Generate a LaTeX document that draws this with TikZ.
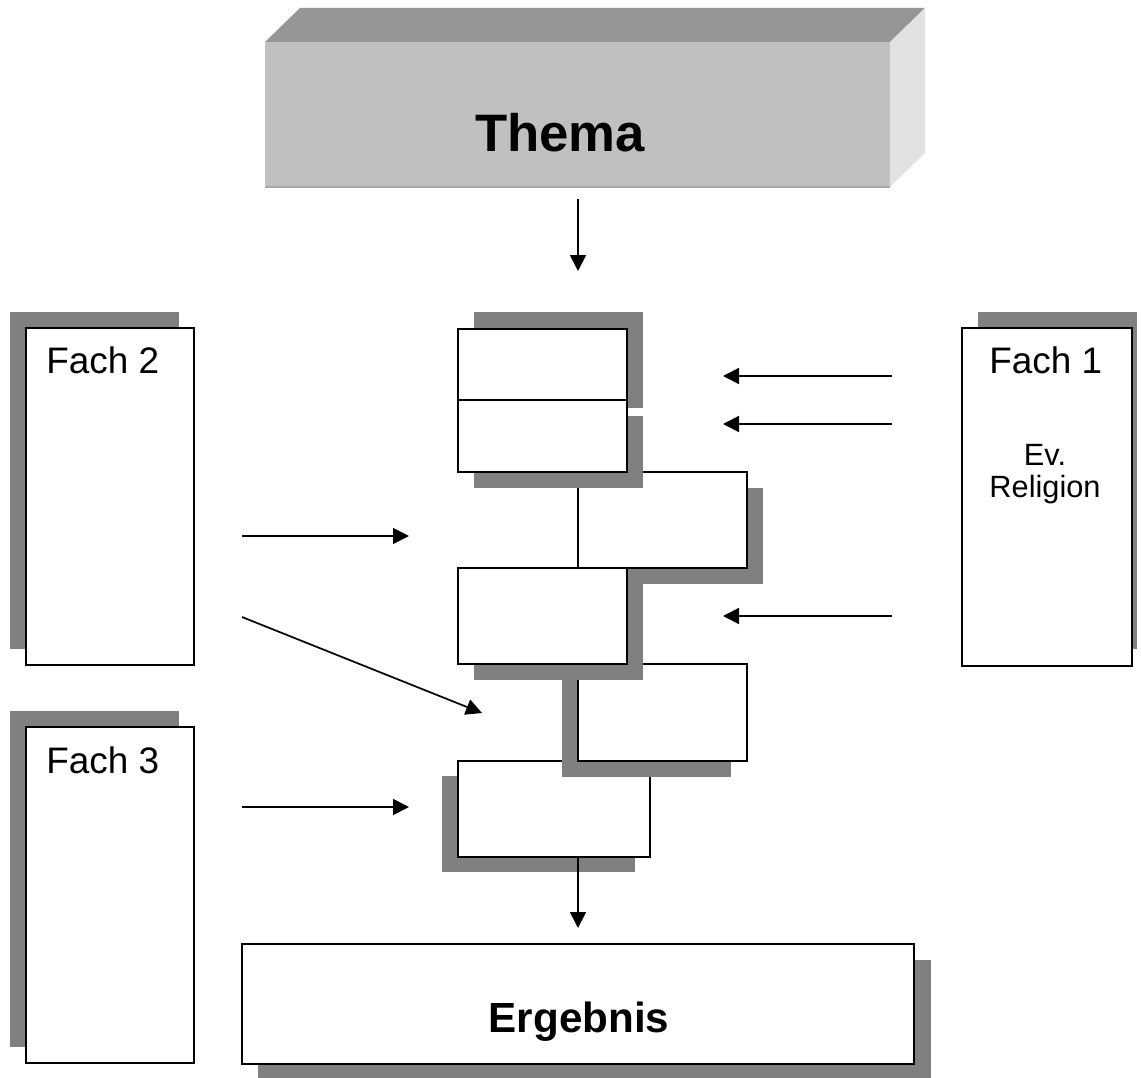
\documentclass[tikz,border=0pt]{standalone}
\usepackage{fontspec}
\setmainfont{Liberation Sans}
\usetikzlibrary{arrows.meta,fit}
\definecolor{shd}{HTML}{808080}
\definecolor{frontc}{HTML}{C0C0C0}
\definecolor{topc}{HTML}{969696}
\definecolor{sidec}{HTML}{E2E2E2}
\definecolor{edgec}{HTML}{A8A8A8}
\begin{document}
\begin{tikzpicture}[x=0.02cm,y=-0.02cm,
  box/.style={draw=black, line width=1.1pt, fill=white, inner sep=0pt},
  shadowbox/.style={fill=shd, draw=none},
  arr/.style={line width=1pt, -{Triangle[length=0.32cm,width=0.32cm]}},
  fachtext/.style={font=\fontsize{21}{25}\selectfont, anchor=base west, inner sep=0pt},
  smalltext/.style={font=\fontsize{17.5}{21}\selectfont, anchor=base, inner sep=0pt},
  bigtext/.style={font=\bfseries, anchor=base, inner sep=0pt}]
\useasboundingbox (0,0) rectangle (1141,1077);

% Thema 3D block
\fill[topc] (265,42) -- (300,8) -- (925,8) -- (890,42) -- cycle;
\fill[sidec] (890,42) -- (925,8) -- (925,153) -- (890,187) -- cycle;
\node[fill=frontc, inner sep=0pt, fit={(265,42) (890,187)}] (thema) {};
\draw[edgec, line width=0.8pt] (265,187) -- (890,187);
\node[bigtext, font=\fontsize{30}{36}\selectfont\bfseries] (thematxt) at (560,152) {Thema};

% Fach 2
\fill[shadowbox] (10,312) rectangle (179,649);
\node[box, fit={(26,328) (194,665)}] (fach2) {};
\node[fachtext] (fach2txt) at (46,374) {Fach 2};

% Fach 3
\fill[shadowbox] (10,711) rectangle (179,1047);
\node[box, fit={(26,727) (194,1063)}] (fach3) {};
\node[fachtext] (fach3txt) at (46,773) {Fach 3};

% Fach 1
\fill[shadowbox] (978,312) rectangle (1137,649);
\node[box, fit={(962,328) (1132,666)}] (fach1) {};
\node[fachtext] (fach1txt) at (989,374) {Fach 1};
\node[smalltext] (ev) at (1045,465) {Ev.};
\node[smalltext] (relig) at (1045,497) {Religion};

% Ergebnis
\fill[shadowbox] (258,960) rectangle (931,1080);
\node[box, fit={(242,944) (914,1064)}] (erg) {};
\node[bigtext, font=\fontsize{24}{29}\selectfont\bfseries] (ergtxt) at (579,1032) {Ergebnis};

% central stack
\fill[shadowbox] (442,776) rectangle (635,872);
\node[box, fit={(458,761) (650,857)}] (bF) {};
\fill[shadowbox] (562,680) rectangle (731,777);
\node[box, fit={(578,664) (747,761)}] (bE) {};
\fill[shadowbox] (594,488) rectangle (763,584);
\node[box, fit={(578,472) (747,568)}] (bC) {};
\fill[shadowbox] (474,584) rectangle (643,680);
\node[box, fit={(458,568) (627,664)}] (bD) {};
\fill[shadowbox] (474,312) rectangle (643,408);
\fill[shadowbox] (474,416) rectangle (643,488);
\node[box, fit={(458,329) (627,400)}] (bA) {};
\node[box, fit={(458,400) (627,472)}] (bB) {};

% connector end points
\coordinate (t1) at (578,199);
\coordinate (t2) at (578,271);
\coordinate (b1) at (578,857);
\coordinate (b2) at (578,928);
\coordinate (r1s) at (892,376);
\coordinate (r1e) at (723,376);
\coordinate (r2s) at (892,424);
\coordinate (r2e) at (723,424);
\coordinate (r3s) at (892,616);
\coordinate (r3e) at (723,616);
\coordinate (l1s) at (242,536);
\coordinate (l1e) at (409,536);
\coordinate (l2s) at (242,617);
\coordinate (l2e) at (482,713);
\coordinate (l3s) at (242,807);
\coordinate (l3e) at (409,807);

\draw[arr] (t1) -- (t2);
\draw[arr] (b1) -- (b2);
\draw[arr] (r1s) -- (r1e);
\draw[arr] (r2s) -- (r2e);
\draw[arr] (r3s) -- (r3e);
\draw[arr] (l1s) -- (l1e);
\draw[arr] (l2s) -- (l2e);
\draw[arr] (l3s) -- (l3e);
\end{tikzpicture}
\end{document}
